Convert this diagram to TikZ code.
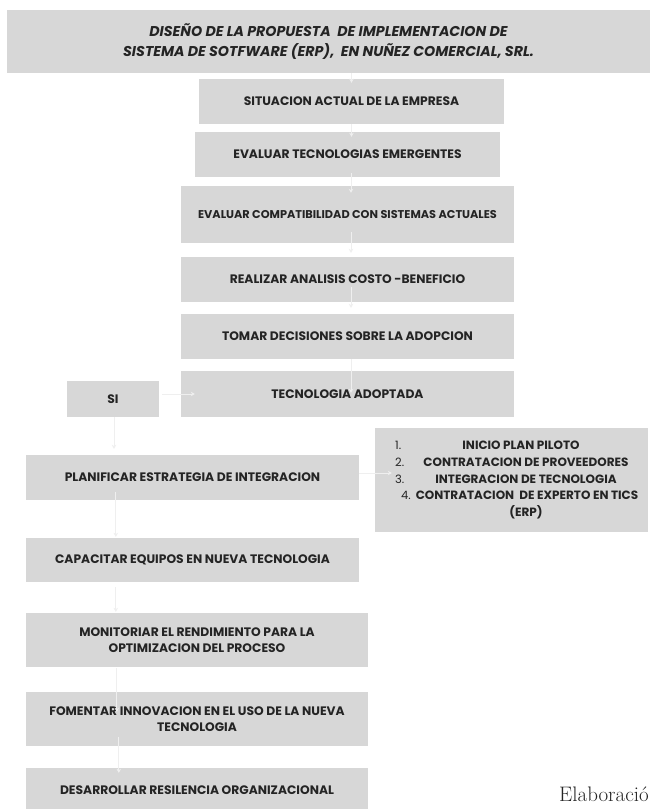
\documentclass[tikz,border=0pt]{standalone}
\usepackage{fontspec}
\newfontfamily\pop{Poppins}
\usetikzlibrary{arrows.meta,calc}
\definecolor{boxgray}{HTML}{D7D7D7}
\definecolor{txt}{HTML}{242424}
\definecolor{linec}{HTML}{EFEFEF}
\begin{document}
\begin{tikzpicture}[x=1pt,y=-1pt,
  box/.style={fill=boxgray, inner sep=0pt, text=txt, align=center,
    font=\pop\bfseries\fontsize{12.3}{16}\selectfont},
  smallbox/.style={box, font=\pop\bfseries\fontsize{11.3}{16}\selectfont},
  titlebox/.style={box, font=\pop\bfseries\itshape\fontsize{14.2}{20}\selectfont},
  item/.style={inner sep=0pt, text=txt, font=\pop\bfseries\fontsize{12}{13}\selectfont},
  num/.style={inner sep=0pt, anchor=west, text=txt, font=\pop\fontsize{11.5}{13}\selectfont},
  conn/.style={draw=linec, line width=1pt, -{Stealth[length=4pt,width=4.5pt]}}]
\useasboundingbox (0,0) rectangle (650,809);
\fill[white] (0,0) rectangle (650,809);

\node[titlebox, minimum width=643pt, minimum height=63pt] (title) at (328.5,41.5)
  {DISEÑO DE LA PROPUESTA \ DE IMPLEMENTACION DE\\SISTEMA DE SOTFWARE (ERP), \ EN NUÑEZ COMERCIAL, SRL.};

\node[box, minimum width=305pt, minimum height=45pt] (b1) at (351.5,101.5) {SITUACION ACTUAL DE LA EMPRESA};
\node[box, minimum width=305pt, minimum height=45pt] (b2) at (347.5,154.5) {EVALUAR TECNOLOGIAS EMERGENTES};
\node[smallbox, minimum width=333pt, minimum height=57pt] (b3) at (347.5,214.5) {EVALUAR COMPATIBILIDAD CON SISTEMAS ACTUALES};
\node[box, minimum width=333pt, minimum height=45pt] (b4) at (347.5,279.5) {REALIZAR ANALISIS COSTO -BENEFICIO};
\node[box, minimum width=333pt, minimum height=45pt] (b5) at (347.5,336.5) {TOMAR DECISIONES SOBRE LA ADOPCION};
\node[box, minimum width=333pt, minimum height=46pt] (b6) at (347.5,394) {TECNOLOGIA ADOPTADA};
\node[box, minimum width=92pt, minimum height=36pt] (si) at (113,399) {SI};

\node[box, minimum width=273pt, minimum height=104pt] (lst) at (511.5,480) {};
\node[num] (n1) at (395,445) {1.};
\node[num] (n2) at (395,462) {2.};
\node[num] (n3) at (395,479) {3.};
\node[num] (n4) at (401,495) {4.};
\node[item] (i1) at (521,445) {INICIO PLAN PILOTO};
\node[item] (i2) at (526,462) {CONTRATACION DE PROVEEDORES};
\node[item] (i3) at (526,479) {INTEGRACION DE TECNOLOGIA};
\node[item] (i4) at (527,495) {CONTRATACION \ DE EXPERTO EN TICS};
\node[item] (i5) at (526,512) {(ERP)};

\node[box, minimum width=333pt, minimum height=45pt] (p1) at (192.5,477.5) {PLANIFICAR ESTRATEGIA DE INTEGRACION};
\node[box, minimum width=333pt, minimum height=44pt] (p2) at (192.5,560) {CAPACITAR EQUIPOS EN NUEVA TECNOLOGIA};
\node[box, minimum width=342pt, minimum height=54pt] (p3) at (197,640) {MONITORIAR EL RENDIMIENTO PARA LA\\OPTIMIZACION DEL PROCESO};
\node[box, minimum width=342pt, minimum height=54pt] (p4) at (197,719) {FOMENTAR INNOVACION EN EL USO DE LA NUEVA\\TECNOLOGIA};
\node[box, minimum width=342pt, minimum height=44pt] (p5) at (197,790) {DESARROLLAR RESILENCIA ORGANIZACIONAL};

\node[inner sep=0pt, anchor=base west, text=txt, font=\fontsize{21}{24}\selectfont] (elab) at (559,801) {Elaboració};

% connectors
\draw[conn] (title.south -| b1.north) -- ($(b1.north)+(0,4)$);
\draw[conn] (b1.south) -- ($(b1.south |- b2.north)+(0,5)$);
\draw[conn] ($(b2.south)+(3.5,-4)$) -- ($(b2.south |- b3.north)+(3.5,7)$);
\draw[conn] ($(b3.south)+(3.5,-11)$) -- ($(b3.south |- b4.north)+(3.5,-4)$);
\draw[conn] ($(b4.south)+(3.5,-15)$) -- ($(b4.south |- b5.north)+(3.5,-6)$);
\draw[conn] ($(b5.south)+(3.5,0)$) -- ($(b5.south |- b6.north)+(3.5,22)$);
\draw[conn] ($(si.east)+(3,-5)$) -- ($(si.east -| b6.west)+(14,-5)$);
\draw[conn] ($(si.south)+(1,0)$) -- ($(si.south |- p1.north)+(1,-6)$);
\draw[conn] ($(p1.east)+(0,-4.5)$) -- ($(p1.east -| lst.west)+(17,-4.5)$);
\draw[conn] ($(p1.south west)+(90,-8)$) -- ($(p1.south west |- p2.north)+(90,-1)$);
\draw[conn] ($(p2.south west)+(90,5)$) -- ($(p2.south west |- p3.north)+(90,-1)$);
\draw[conn] ($(p3.south west)+(91,1)$) -- ($(p3.south west |- p4.north)+(91,20)$);
\draw[conn] ($(p4.south west)+(93,-9)$) -- ($(p4.south west |- p5.north)+(93,5)$);
\end{tikzpicture}
\end{document}
